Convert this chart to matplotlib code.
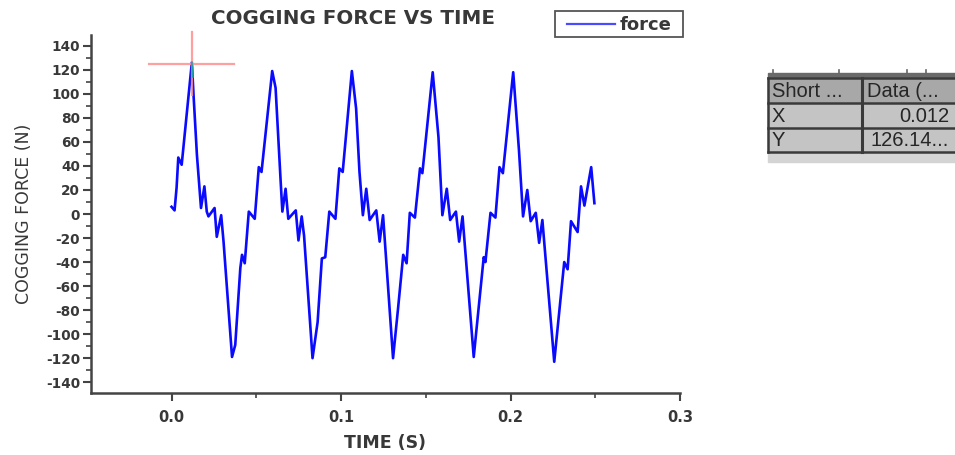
import matplotlib
matplotlib.use("Agg")
import matplotlib.pyplot as plt
from matplotlib.ticker import MultipleLocator
from matplotlib.patches import Rectangle
from matplotlib.lines import Line2D

plt.rcParams['font.family'] = ['DejaVu Sans']

time_s = [0.0000, 0.0018, 0.0030, 0.0040, 0.0060, 0.0120, 0.0130, 0.0150, 0.0174, 0.0194,
          0.0208, 0.0218, 0.0254, 0.0267, 0.0293, 0.0307, 0.0357, 0.0376, 0.0406, 0.0416,
          0.0432, 0.0456, 0.0491, 0.0515, 0.0531, 0.0594, 0.0614, 0.0644, 0.0654, 0.0673,
          0.0689, 0.0733, 0.0749, 0.0768, 0.0782, 0.0832, 0.0862, 0.0887, 0.0907, 0.0931,
          0.0967, 0.0990, 0.1010, 0.1064, 0.1089, 0.1109, 0.1129, 0.1149, 0.1169, 0.1208,
          0.1228, 0.1248, 0.1307, 0.1337, 0.1367, 0.1387, 0.1406, 0.1436, 0.1466, 0.1480,
          0.1541, 0.1575, 0.1598, 0.1624, 0.1644, 0.1678, 0.1697, 0.1717, 0.1783, 0.1842,
          0.1852, 0.1882, 0.1911, 0.1935, 0.1955, 0.2016, 0.2050, 0.2074, 0.2099, 0.2119,
          0.2149, 0.2169, 0.2188, 0.2258, 0.2317, 0.2337, 0.2357, 0.2396, 0.2416, 0.2436,
          0.2476, 0.2495]
force_n = [6, 3, 22, 47, 41, 126.14, 99, 49, 5, 23,
           2, -2, 5, -19, -1, -23, -119, -109, -45, -34,
           -41, 2, -4, 39, 35, 119, 105, 27, 2, 21,
           -4, 3, -22, -2, -18, -120, -90, -37, -36, 2,
           -4, 38, 35, 119, 88, 35, -1, 21, -5, 3,
           -23, -1, -120, -78, -34, -41, 1, -3, 38, 34,
           118, 64, -1, 21, -5, 2, -23, -2, -119, -36,
           -40, 1, -3, 39, 34, 118, 53, -2, 20, -6,
           1, -24, -5, -123, -40, -46, -6, -15, 23, 7,
           39, 9]

cursor_x = 0.012
cursor_y = 126.14

x_ticks = [0.0, 0.1, 0.2, 0.3]
y_ticks = list(range(-140, 141, 20))

series_name = 'force'
table_header = ["Short ...", "Data (..."]
table_rows = [["X", "0.012"], ["Y", "126.14..."]]

TXT = '#383838'
LINE_BLUE = '#0a0aff'
W, H = 955, 455
fig = plt.figure(figsize=(W / 100, H / 100), dpi=100)
ax = fig.add_axes([91 / W, 1 - 393 / H, (680 - 91) / W, (393 - 35) / H])

ax.plot(time_s, force_n, color=LINE_BLUE, lw=1.9, zorder=3, label=series_name)

# data-reader crosshair
ax.plot([cursor_x - 0.025, cursor_x + 0.025], [cursor_y - 1, cursor_y - 1],
        color='#ff9090', lw=1.6, alpha=0.85, clip_on=False, zorder=4)
ax.plot([cursor_x, cursor_x], [cursor_y - 27, cursor_y + 25],
        color='#ff9090', lw=1.6, alpha=0.85, clip_on=False, zorder=4)
ax.plot([cursor_x, cursor_x + 0.0006], [cursor_y, cursor_y - 12],
        color='#20a0a0', lw=1.2, zorder=5)

ax.set_xlim(-0.0475, 0.3)
ax.set_ylim(-149, 149)
ax.set_xticks(x_ticks)
ax.set_xticklabels([f"{v:.1f}" for v in x_ticks])
ax.set_yticks(y_ticks)
ax.set_yticklabels([str(v) for v in y_ticks])
ax.xaxis.set_minor_locator(MultipleLocator(0.05))
ax.yaxis.set_minor_locator(MultipleLocator(10))

for s in ['top', 'right']:
    ax.spines[s].set_visible(False)
for s in ['left', 'bottom']:
    ax.spines[s].set_color('#444444')
    ax.spines[s].set_linewidth(1.8)

ax.tick_params(which='major', direction='out', length=6, width=1.5, color='#444444',
               labelcolor=TXT, pad=2)
ax.tick_params(which='minor', direction='out', length=3.5, width=1.2, color='#444444')
ax.tick_params(axis='y', labelsize=9.8)
ax.tick_params(axis='x', labelsize=10.5, pad=6)
for lab in ax.get_xticklabels() + ax.get_yticklabels():
    lab.set_fontweight('bold')

ax.set_xlabel('TIME (S)', fontsize=12.5, color=TXT, labelpad=7, fontweight='bold')
ax.set_ylabel('COGGING FORCE (N)', fontsize=12.5, color=TXT, labelpad=9)
fig.text(353 / W, 1 - 18.5 / H, 'COGGING FORCE VS TIME', ha='center', va='center',
         fontsize=14.3, color=TXT, fontweight='bold')

# overlay in figure pixel coordinates for legend box and data-reader table
ov = fig.add_axes([0, 0, 1, 1], facecolor='none')
ov.set_xlim(0, W)
ov.set_ylim(H, 0)
ov.axis('off')

# legend
ov.add_patch(Rectangle((555, 11), 128, 26, facecolor='white', edgecolor='#555555', lw=1.3))
ov.add_line(Line2D([567, 615], [24, 24], color='#4a4aff', lw=1.6))
ov.text(620, 24.5, series_name, fontsize=13, fontweight='bold', color=TXT,
        ha='left', va='center')

# data reader table
x0, xm, x1 = 768, 862, 955
ov.add_patch(Rectangle((x0, 73), x1 - x0, 5, color='#6a6a6a'))
ov.add_patch(Rectangle((x0, 152), x1 - x0, 10, color='#d4d4d4'))
ov.add_patch(Rectangle((x0, 78), x1 - x0, 25, color='#a8a8a8'))
ov.add_patch(Rectangle((x0, 103), x1 - x0, 49, color='#c4c4c4'))
for xt in [773, 839, 907, 926]:
    ov.plot([xt, xt], [70, 73], color='#666666', lw=1.2)
for yy in [78, 103, 128, 152]:
    ov.plot([x0, x1], [yy, yy], color='#3a3a3a', lw=1.8)
ov.plot([x0, x0], [78, 152], color='#3a3a3a', lw=1.8)
ov.plot([xm, xm], [78, 152], color='#3a3a3a', lw=2.2)
tfont = dict(family=['Liberation Sans', 'DejaVu Sans'],
             size=14.5, color='#262626', va='center')
ov.text(x0 + 4, 91.5, table_header[0], ha='left', **tfont)
ov.text(xm + 5, 91.5, table_header[1], ha='left', **tfont)
for i, (k, v) in enumerate(table_rows):
    yc = 116 + i * 24.5
    ov.text(x0 + 4, yc, k, ha='left', **tfont)
    ov.text(x1 - 6, yc, v, ha='right', **tfont)

fig.savefig('out.png', dpi=100)
